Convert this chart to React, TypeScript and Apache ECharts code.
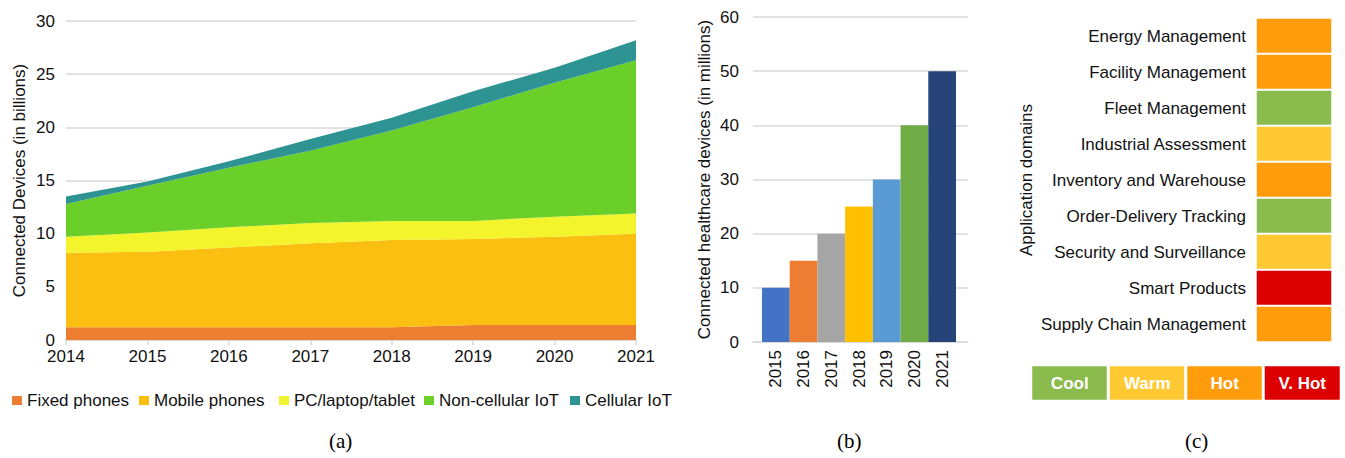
import React, { useEffect, useRef } from "react";
import * as echarts from "echarts";

// Panel (a): connected devices (billions)
const yearsA = ["2014", "2015", "2016", "2017", "2018", "2019", "2020", "2021"];
const fixedPhones = [1.2, 1.2, 1.2, 1.2, 1.2, 1.4, 1.4, 1.4];
const mobilePhones = [7.0, 7.1, 7.5, 7.9, 8.2, 8.1, 8.3, 8.6];
const pcLaptopTablet = [1.5, 1.8, 1.9, 1.9, 1.8, 1.7, 1.9, 1.9];
const nonCellularIoT = [3.1, 4.4, 5.6, 6.8, 8.5, 10.7, 12.6, 14.4];
const cellularIoT = [0.7, 0.4, 0.6, 1.1, 1.2, 1.5, 1.4, 1.9];
const seriesNamesA = ["Fixed phones", "Mobile phones", "PC/laptop/tablet", "Non-cellular IoT", "Cellular IoT"];
const seriesColorsA = ["#ED7D31", "#FBBF12", "#F4F42D", "#6ACF28", "#2E9493"];

// Panel (b): connected healthcare devices (millions)
const yearsB = ["2015", "2016", "2017", "2018", "2019", "2020", "2021"];
const healthcareDevices = [10, 15, 20, 25, 30, 40, 50];
const barColorsB = ["#4472C4", "#ED7D31", "#A5A5A5", "#FFC000", "#5B9BD5", "#70AD47", "#264478"];

// Panel (c): application domains heat
const domains = [
  "Energy Management",
  "Facility Management",
  "Fleet Management",
  "Industrial Assessment",
  "Inventory and Warehouse",
  "Order-Delivery Tracking",
  "Security and Surveillance",
  "Smart Products",
  "Supply Chain Management",
];
const levels = ["Cool", "Warm", "Hot", "V. Hot"];
const domainLevel = [2, 2, 0, 1, 2, 0, 1, 3, 2];
const levelColors = ["#8BBB4C", "#FFC934", "#FF9C0C", "#DD0000"];

const FONT = "'Liberation Sans', Arial, sans-serif";
const SERIF = "'Liberation Serif', 'Times New Roman', serif";
const TXT = "#111";
const GRID_LINE = "#d9d9d9";

export default function App() {
  const ref = useRef<HTMLDivElement>(null);

  useEffect(() => {
    if (!ref.current) return;
    const chart = echarts.init(ref.current, null, { renderer: "svg" });

    const seriesDataA = [fixedPhones, mobilePhones, pcLaptopTablet, nonCellularIoT, cellularIoT];
    const legendLefts = [12, 139, 279, 424, 570];

    const option: any = {
      animation: false,
      textStyle: { fontFamily: FONT },
      legend: seriesNamesA.map((n, i) => ({
        data: [n],
        left: legendLefts[i],
        top: 392,
        itemWidth: 10,
        itemHeight: 9,
        icon: "rect",
        padding: 0,
        textStyle: { fontSize: 17, color: TXT, fontFamily: FONT },
      })),
      grid: [
        { left: 66, top: 21, width: 570, height: 319 },
        { left: 762, top: 17, width: 194, height: 325 },
        { left: 753, top: 17, width: 215, height: 325 },
        { left: 1256, top: 18, width: 76, height: 324 },
        { left: 1031, top: 365, width: 310, height: 36 },
      ],
      xAxis: [
        {
          gridIndex: 0,
          type: "category",
          data: yearsA,
          boundaryGap: false,
          axisLine: { lineStyle: { color: GRID_LINE, width: 1.5 } },
          axisTick: { length: 5, lineStyle: { color: GRID_LINE, width: 1.5 } },
          axisLabel: { fontSize: 17, color: TXT, margin: 8, fontFamily: FONT },
        },
        {
          gridIndex: 1,
          type: "category",
          data: yearsB,
          axisLine: { show: false },
          axisTick: { alignWithLabel: true, length: 5, lineStyle: { color: GRID_LINE } },
          axisLabel: { fontSize: 17, color: TXT, rotate: 90, margin: 8, fontFamily: FONT },
        },
        {
          gridIndex: 2,
          type: "value",
          min: 0,
          max: 1,
          axisLine: { show: true, lineStyle: { color: GRID_LINE, width: 1.5 } },
          axisTick: { show: false },
          axisLabel: { show: false },
          splitLine: { show: false },
        },
        {
          gridIndex: 3,
          type: "category",
          data: ["level"],
          show: false,
        },
        {
          gridIndex: 4,
          type: "category",
          data: levels,
          show: false,
        },
      ],
      yAxis: [
        {
          gridIndex: 0,
          type: "value",
          min: 0,
          max: 30,
          interval: 5,
          axisLine: { show: false },
          axisTick: { show: false },
          axisLabel: { fontSize: 17, color: TXT, margin: 11, fontFamily: FONT },
          splitLine: { lineStyle: { color: GRID_LINE, width: 1.5 } },
          name: "Connected Devices (in billions)",
          nameLocation: "middle",
          nameGap: 38,
          nameTextStyle: { fontSize: 17, color: TXT, fontFamily: FONT },
        },
        {
          gridIndex: 1,
          type: "value",
          min: 0,
          max: 60,
          interval: 10,
          show: false,
          splitLine: { show: false },
        },
        {
          gridIndex: 2,
          type: "value",
          min: 0,
          max: 60,
          interval: 10,
          axisLine: { show: false },
          axisTick: { show: false },
          axisLabel: { fontSize: 17, color: TXT, margin: 14, fontFamily: FONT },
          splitLine: { lineStyle: { color: GRID_LINE, width: 1.5 } },
          name: "Connected healthcare devices (in millions)",
          nameLocation: "middle",
          nameGap: 40,
          nameTextStyle: { fontSize: 17, color: TXT, fontFamily: FONT },
        },
        {
          gridIndex: 3,
          type: "category",
          data: domains,
          inverse: true,
          axisLine: { show: false },
          axisTick: { show: false },
          axisLabel: { fontSize: 17, color: TXT, margin: 10, fontFamily: FONT },
          name: "Application domains",
          nameLocation: "middle",
          nameGap: 221,
          nameTextStyle: { fontSize: 17, color: TXT, fontFamily: FONT },
        },
        {
          gridIndex: 4,
          type: "category",
          data: [""],
          show: false,
        },
      ],
      visualMap: {
        type: "piecewise",
        show: false,
        dimension: 2,
        seriesIndex: [6, 7],
        pieces: levelColors.map((c, i) => ({ value: i, color: c })),
      },
      series: [
        ...seriesNamesA.map((n, i) => ({
          name: n,
          type: "line",
          xAxisIndex: 0,
          yAxisIndex: 0,
          stack: "devices",
          data: seriesDataA[i],
          symbol: "none",
          showSymbol: false,
          lineStyle: { width: 0 },
          itemStyle: { color: seriesColorsA[i] },
          areaStyle: { color: seriesColorsA[i], opacity: 1 },
        })),
        {
          type: "bar",
          xAxisIndex: 1,
          yAxisIndex: 1,
          barCategoryGap: "0%",
          data: healthcareDevices.map((v, i) => ({ value: v, itemStyle: { color: barColorsB[i] } })),
        },
        {
          type: "heatmap",
          xAxisIndex: 3,
          yAxisIndex: 3,
          data: domainLevel.map((lv, i) => [0, i, lv]),
          itemStyle: { borderColor: "#fff", borderWidth: 2 },
          emphasis: { disabled: true },
        },
        {
          type: "heatmap",
          xAxisIndex: 4,
          yAxisIndex: 4,
          data: levels.map((_, i) => [i, 0, i]),
          itemStyle: { borderColor: "#fff", borderWidth: 3 },
          label: {
            show: true,
            formatter: (p: any) => levels[p.value[0]],
            color: "#fff",
            fontWeight: "bold",
            fontSize: 17,
            fontFamily: FONT,
          },
          emphasis: { disabled: true },
        },
      ],
      graphic: [
        { type: "text", left: 346 - 17, top: 430, style: { text: "(a)", fontSize: 21, fontFamily: SERIF, fill: "#000" } },
        { type: "text", left: 854 - 17, top: 430, style: { text: "(b)", fontSize: 21, fontFamily: SERIF, fill: "#000" } },
        { type: "text", left: 1201 - 16, top: 430, style: { text: "(c)", fontSize: 21, fontFamily: SERIF, fill: "#000" } },
      ],
    };

    chart.setOption(option);
    return () => chart.dispose();
  }, []);

  return (
    <div
      ref={ref}
      style={{ position: "absolute", left: 0, top: 0, width: 1345, height: 458, background: "#fff" }}
    />
  );
}
